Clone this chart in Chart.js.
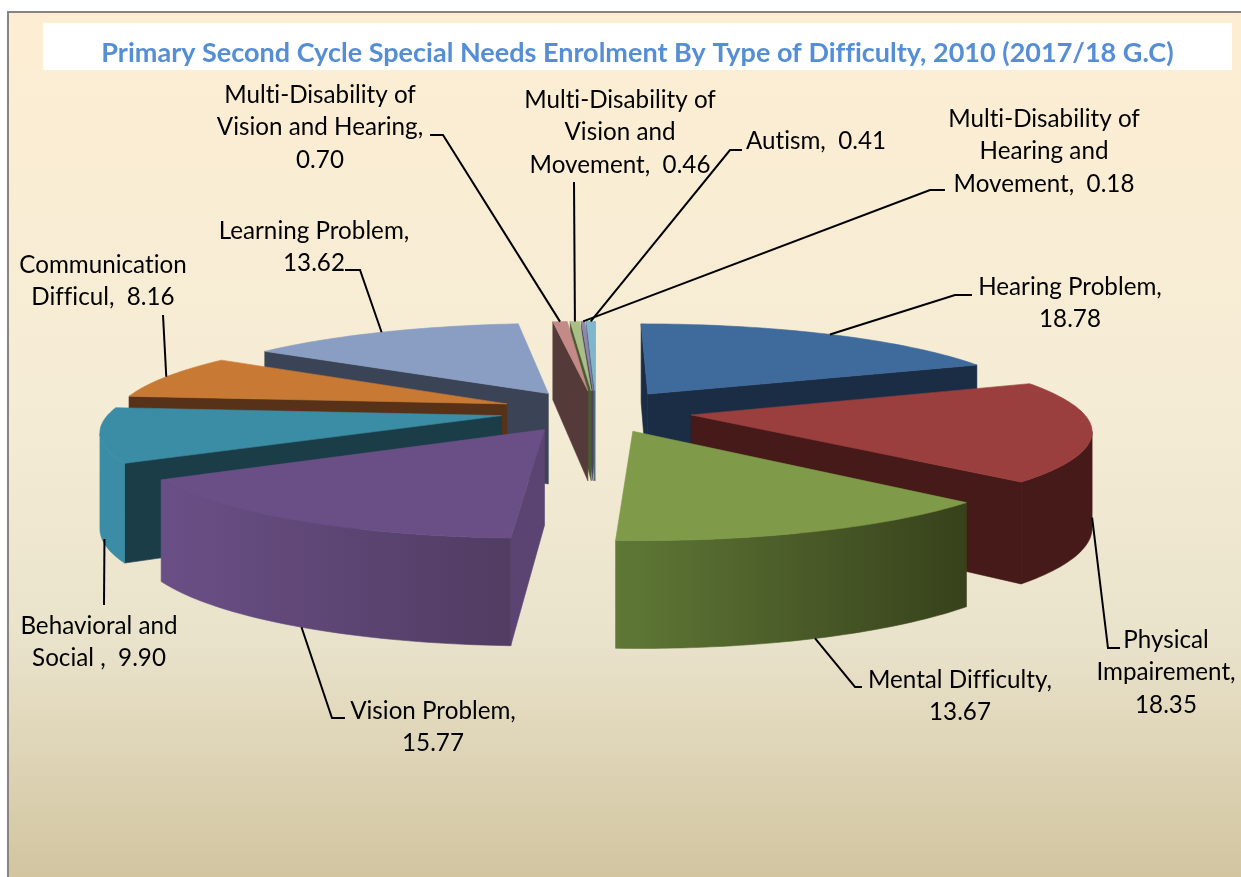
<!DOCTYPE html>
<html><head><meta charset="utf-8">
<style>html,body{margin:0;padding:0;background:#fff}canvas{display:block}</style>
<script src="https://cdn.jsdelivr.net/npm/chart.js@4"></script>
</head><body><canvas id="c" width="1241" height="877"></canvas>
<script>
// ---- data
const titleText = "Primary Second Cycle Special Needs Enrolment By Type of Difficulty, 2010 (2017/18 G.C)";
const categories = ["Hearing Problem","Physical Impairement","Mental Difficulty","Vision Problem","Behavioral and Social","Communication Difficul","Learning Problem","Multi-Disability of Vision and Hearing","Multi-Disability of Vision and Movement","Multi-Disability of Hearing and Movement","Autism"];
const values = [18.78,18.35,13.67,15.77,9.90,8.16,13.62,0.70,0.46,0.18,0.41];
// ---- label wrapping ({v} = value)
const labelLines = [
 ["Hearing Problem,","{v}"],["Physical","Impairement,","{v}"],["Mental Difficulty,","{v}"],["Vision Problem,","{v}"],
 ["Behavioral and","Social ,  {v}"],["Communication","Difficul,  {v}"],["Learning Problem,","{v}"],
 ["Multi-Disability of","Vision and Hearing,","{v}"],["Multi-Disability of","Vision and","Movement,  {v}"],["Multi-Disability of","Hearing and","Movement,  {v}"],["Autism,  {v}"]];
// ---- styles
const topColors  = ["#3f6a9c","#9b3e3e","#7f9a48","#6a4f86","#3b8ca5","#c87a35","#8a9dc2","#c48a88","#a9bf85","#9085ab","#7fb6cc"];
const cutColors  = ["#1a2d45","#451a18","#3f4f22","#5c4472","#1a3d48","#583218","#3b4456","#553a3a","#4a5a32","#4a4060","#4a6a75"];
const wallLeft   = ["#1a2d45","#451a18","#5f7836","#6a4f86","#3b8ca5","#6b3c18","#3b4456","#553a3a","#4a5a32","#4a4060","#4a6a75"];
const wallRight  = ["#1a2d45","#451a18","#37411b","#513c62","#3b8ca5","#6b3c18","#3b4456","#553a3a","#4a5a32","#4a4060","#4a6a75"];
// ---- layout
const view = {cx:596, cy:411, rx:391, ry:85.7, persp:0.153, h:93, hPersp:0.13};
const labelPos = [[1070,287],[1166,640],[960,680],[433,711],[99,626],[103,265],[314,231],[320,95],[620,100],[1044,119],[816,141]];
const leaderDepth = [0,0.9,1,1,0.95,0,0,0,0,0,0];
const leaderShift = [0,0,0,-0.02,-0.12,0,0,0,0,0,0];
const leaderElbows = [
 [[955,295],[972,295]],[[1108,648],[1120,648]],[[855,687],[862,687]],[[332,718],[345,718]],[[104,605]],[[163,315]],
 [[360,270],[345,270]],[[443,135],[430,135]],[[574,182]],[[930,190],[945,190]],[[730,150],[742,150]]];
const offsetPx = 88;

function proj(X,Y,Z){
  const p = 1/(1 - view.persp*Y);
  return [view.cx + X*view.rx*p, view.cy + Y*view.ry*p + Z*view.h*(1+view.hPersp*Y)];
}
function area(q){let s=0;for(let i=0;i<q.length;i++){const a=q[i],b=q[(i+1)%q.length];s+=a[0]*b[1]-b[0]*a[1];}return s/2;}
function poly(ctx,pts,fill){ctx.beginPath();pts.forEach((p,i)=>i?ctx.lineTo(p[0],p[1]):ctx.moveTo(p[0],p[1]));ctx.closePath();
  ctx.fillStyle=fill;ctx.fill();ctx.strokeStyle=fill;ctx.lineWidth=0.6;ctx.stroke();}

const backdrop = {id:'backdrop',beforeDraw(chart){
  const c=chart.ctx,W=chart.width,H=chart.height;
  c.letterSpacing='0.01px'; c.textRendering='optimizeSpeed';
  c.save();c.fillStyle='#fff';c.fillRect(0,0,W,H);
  const g=c.createLinearGradient(0,11,0,H);
  g.addColorStop(0,'#fdeed3');g.addColorStop(0.45,'#f5ecd5');g.addColorStop(0.72,'#eae3cc');g.addColorStop(1,'#d2c5a0');
  c.fillStyle=g;c.fillRect(8,12,W-8,H-12);
  c.fillStyle='#858585';c.fillRect(7,11,W-7,2);c.fillRect(7,11,2,H-11);
  c.fillStyle='#fff';c.fillRect(43,23,1189,47);
  c.restore();
}};

const pie3d = {id:'pie3d',beforeDatasetDraw(chart,args){
  const c=chart.ctx, arcs=chart.getDatasetMeta(args.index).data;
  const info=arcs.map((el,i)=>{
    const pr=el.getProps(['startAngle','endAngle','outerRadius']);
    const d=offsetPx/pr.outerRadius, mid=(pr.startAngle+pr.endAngle)/2;
    const ox=d*Math.cos(mid), oy=d*Math.sin(mid);
    const pt=(a,r,z)=>proj(ox+r*Math.cos(a),oy+r*Math.sin(a),z);
    return {i,a0:pr.startAngle,a1:pr.endAngle,mid,ox,oy,pt};
  });
  const order=info.slice().sort((a,b)=>Math.sin(a.mid)-Math.sin(b.mid));
  order.forEach(s=>{
    const {i,a0,a1,pt}=s, n=Math.max(6,Math.ceil((a1-a0)/0.02));
    const cuts=[[pt(a0,0,0),pt(a0,1,0),pt(a0,1,1),pt(a0,0,1)],[pt(a1,1,0),pt(a1,0,0),pt(a1,0,1),pt(a1,1,1)]];
    cuts.forEach(q=>{if(area(q)<0)poly(c,q,cutColors[i]);});
    // outer wall: only the part that faces the viewer
    const tops=[],bots=[];
    for(let k=0;k<n;k++){
      const u=a0+(a1-a0)*k/n,v=a0+(a1-a0)*(k+1)/n;
      const q=[pt(u,1,0),pt(v,1,0),pt(v,1,1),pt(u,1,1)];
      if(area(q)<0){ if(!tops.length){tops.push(q[0]);bots.push(q[3]);} tops.push(q[1]);bots.push(q[2]); }
    }
    if(tops.length){
      const xs=tops.map(p=>p[0]);
      const g=c.createLinearGradient(Math.min(...xs),0,Math.max(...xs)+0.01,0);
      g.addColorStop(0,wallLeft[i]);g.addColorStop(1,wallRight[i]);
      poly(c,tops.concat(bots.reverse()),g);
    }
    const top=[pt(a0,0,0)];
    for(let k=0;k<=n;k++)top.push(pt(a0+(a1-a0)*k/n,1,0));
    poly(c,top,topColors[i]);
  });
  // leaders
  c.save();c.strokeStyle='#000';c.lineWidth=2;c.lineJoin='miter';
  info.forEach(s=>{
    const st=s.pt(s.mid+leaderShift[s.i],1,leaderDepth[s.i]);
    c.beginPath();c.moveTo(st[0],st[1]);leaderElbows[s.i].forEach(p=>c.lineTo(p[0],p[1]));c.stroke();
  });
  // labels
  c.fillStyle='#000';c.font='24.2px Lato';c.textAlign='center';c.textBaseline='middle';
  info.forEach(s=>{
    labelLines[s.i].forEach((ln,k)=>{
      c.fillText(ln.replace('{v}',values[s.i].toFixed(2)),labelPos[s.i][0],labelPos[s.i][1]+k*32.5);
    });
  });
  c.restore();
  return false;
}};

new Chart(document.getElementById('c'),{
  type:'pie',
  data:{labels:categories,datasets:[{data:values,backgroundColor:topColors,offset:offsetPx,borderWidth:0}]},
  plugins:[backdrop,pie3d],
  options:{
    responsive:false,animation:false,
    layout:{padding:{left:34}},
    plugins:{
      legend:{display:false},tooltip:{enabled:false},
      title:{display:true,text:titleText,color:'#558ed5',font:{family:'Lato',size:27,weight:'bold'},padding:{top:37,bottom:3}}
    }
  }
});
</script></body></html>
